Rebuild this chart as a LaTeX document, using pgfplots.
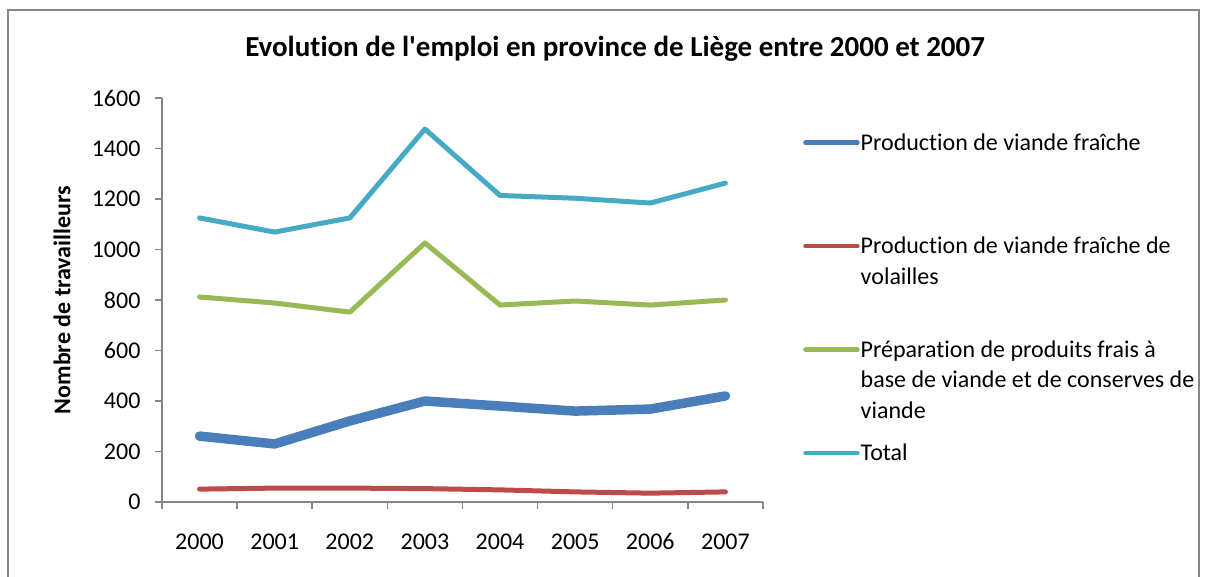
\documentclass[border=0pt]{standalone}
\usepackage{fontspec}
\setmainfont{Carlito}[Ligatures={NoCommon}]
\usepackage{pgfplots}
\pgfplotsset{compat=1.18}
\definecolor{cblue}{HTML}{4A7EBB}
\definecolor{cred}{HTML}{BE4B48}
\definecolor{cgreen}{HTML}{98B954}
\definecolor{ccyan}{HTML}{46AAC5}
\definecolor{cgrid}{HTML}{868686}
\newcommand{\fz}{\fontsize{24}{30.5}\selectfont}
\newcommand{\lgd}[1]{\raisebox{0pt}[43pt][60pt]{\parbox[t]{345pt}{\fz #1}}}
\begin{document}
\begin{tikzpicture}[x=1pt,y=1pt]
\useasboundingbox (0,0) rectangle (1205,576);
\draw[cgrid, line width=2pt] (8,-5) -- (8,566) -- (1199,566) -- (1199,-5);
\begin{axis}[
  at={(162pt,74pt)}, anchor=south west,
  scale only axis, width=601pt, height=404pt,
  xmin=0, xmax=8, ymin=0, ymax=1600,
  xtick={0.5,1.5,...,7.5},
  xticklabels={2000,2001,2002,2003,2004,2005,2006,2007},
  minor xtick={0,1,...,8},
  major x tick style={draw=none},
  ytick={0,200,...,1600},
  tick align=outside,
  major tick length=7pt, minor tick length=7pt,
  axis x line*=bottom, axis y line*=left,
  axis line style={cgrid, line width=1.5pt, -},
  every tick/.style={cgrid, line width=1.5pt},
  /pgf/number format/assume math mode=true,
  /pgf/number format/1000 sep={},
  tick label style={font=\fz},
  xticklabel style={yshift=-21pt},
  yticklabel style={xshift=-11pt},
  ylabel={Nombre de travailleurs},
  ylabel style={font=\bfseries\fz, at={(axis description cs:-0.1664,0.5)}, anchor=center},
  title={Evolution de l\textquotesingle emploi en province de Liège entre 2000 et 2007},
  title style={font=\bfseries\fontsize{29}{34}\selectfont, at={(axis description cs:0.754,1.107)}, anchor=center},
  legend style={at={(axis description cs:1.0666,0.9777)}, anchor=north west,
    draw=none, fill=none, inner sep=0pt, row sep=59pt, column sep=1pt,
    nodes={inner sep=0pt}, cells={anchor=base west}, font=\fz},
  legend image code/.code={\draw[#1, line width=4.5pt, line cap=round] (0pt,7.5pt) -- (52pt,7.5pt);},
  clip=false,
]
\addplot[cblue, line width=9.5pt, line join=round, line cap=round] coordinates {
(0.5,261) (1.5,230) (2.5,321) (3.5,400) (4.5,380) (5.5,360) (6.5,368) (7.5,420)};
\addlegendentry{\lgd{Production de viande fraîche}}
\addplot[cred, line width=5pt, line join=round, line cap=round] coordinates {
(0.5,51) (1.5,55) (2.5,55) (3.5,53) (4.5,48) (5.5,40) (6.5,35) (7.5,40)};
\addlegendentry{\lgd{Production de viande fraîche de\\volailles}}
\addplot[cgreen, line width=5pt, line join=round, line cap=round] coordinates {
(0.5,812) (1.5,788) (2.5,752) (3.5,1026) (4.5,780) (5.5,796) (6.5,780) (7.5,800)};
\addlegendentry{\lgd{Préparation de produits frais à\\base de viande et de conserves de\\viande}}
\addplot[ccyan, line width=5pt, line join=round, line cap=round] coordinates {
(0.5,1125) (1.5,1069) (2.5,1125) (3.5,1477) (4.5,1214) (5.5,1203) (6.5,1184) (7.5,1263)};
\addlegendentry{\lgd{Total}}
\end{axis}
\end{tikzpicture}
\end{document}
